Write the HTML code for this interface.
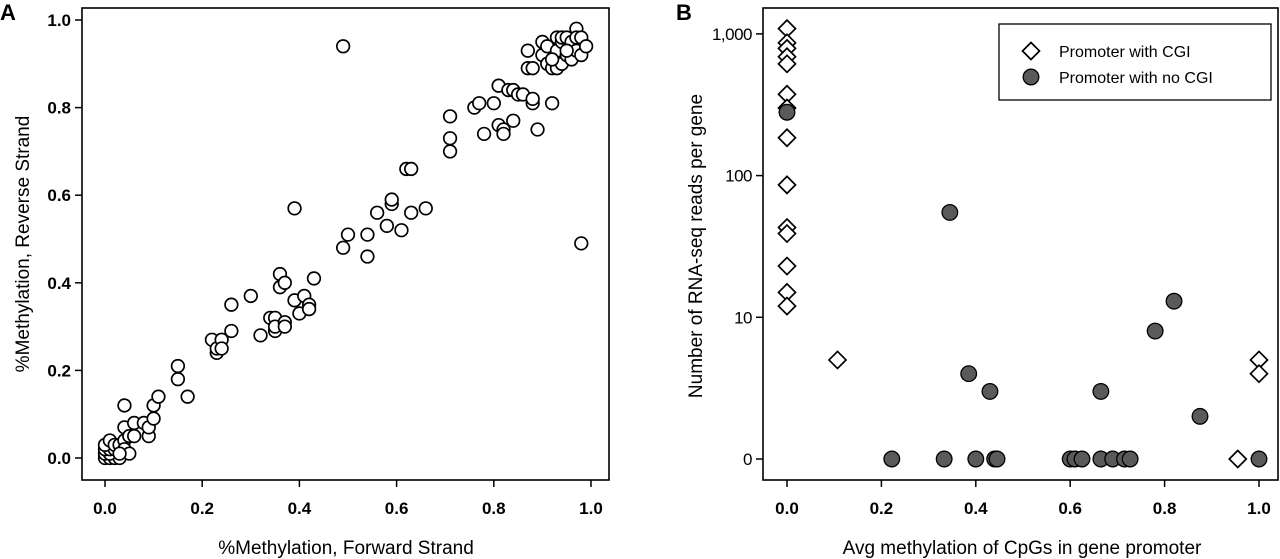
<!DOCTYPE html>
<html><head><meta charset="utf-8"><style>
html,body{margin:0;padding:0;background:#fff;}
svg{display:block;font-family:"Liberation Sans",Arial,sans-serif;}
</style></head><body>
<svg id="fig" width="1280" height="559" viewBox="0 0 1280 559">
<g id="pa"></g>
<g id="pb"></g>
</svg>
<script>
const aFwd=[0,0.01,0.02,0.03,0,0.01,0,0.01,0.02,0,0.01,0.02,0.03,0.04,0.04,0.05,0.03,0.04,0.04,0.05,0.06,0.06,0.08,0.09,0.09,0.1,0.1,0.11,0.15,0.15,0.17,0.22,0.23,0.23,0.24,0.24,0.26,0.26,0.3,0.32,0.34,0.35,0.35,0.35,0.36,0.36,0.37,0.37,0.37,0.39,0.39,0.4,0.41,0.42,0.42,0.43,0.49,0.49,0.5,0.54,0.54,0.56,0.58,0.59,0.59,0.61,0.62,0.63,0.63,0.66,0.71,0.71,0.71,0.76,0.77,0.78,0.8,0.81,0.81,0.82,0.82,0.83,0.84,0.84,0.85,0.86,0.87,0.87,0.88,0.88,0.88,0.89,0.9,0.9,0.91,0.91,0.92,0.92,0.93,0.93,0.93,0.94,0.94,0.94,0.95,0.95,0.96,0.96,0.97,0.97,0.97,0.98,0.98,0.98,0.99,0.92,0.95];
const aRev=[0,0,0,0,0.01,0.01,0.02,0.02,0.02,0.03,0.04,0.03,0.03,0.04,0.02,0.01,0.01,0.07,0.12,0.05,0.05,0.08,0.08,0.05,0.07,0.09,0.12,0.14,0.21,0.18,0.14,0.27,0.24,0.25,0.27,0.25,0.35,0.29,0.37,0.28,0.32,0.32,0.29,0.3,0.42,0.39,0.4,0.31,0.3,0.36,0.57,0.33,0.37,0.35,0.34,0.41,0.48,0.94,0.51,0.51,0.46,0.56,0.53,0.58,0.59,0.52,0.66,0.66,0.56,0.57,0.78,0.73,0.7,0.8,0.81,0.74,0.81,0.85,0.76,0.75,0.74,0.84,0.84,0.77,0.83,0.83,0.93,0.89,0.89,0.81,0.82,0.75,0.95,0.92,0.9,0.94,0.89,0.81,0.96,0.93,0.89,0.95,0.9,0.96,0.92,0.96,0.91,0.95,0.98,0.96,0.93,0.96,0.49,0.92,0.94,0.91,0.93];
const aTicks=[0,0.2,0.4,0.6,0.8,1.0];
const aTickLabels=["0.0","0.2","0.4","0.6","0.8","1.0"];
const cgiX=[0,0,0,0,0,0,0,0,0,0,0,0,0,0,0.107,1.0,1.0,0.955];
const cgiY=[1090,865,790,690,615,375,300,185,86,43,39,23,15,12,5,5,4,0];
const noX=[0,0.345,0.385,0.43,0.665,0.78,0.82,0.875,0.222,0.333,0.4,0.44,0.445,0.6,0.61,0.625,0.665,0.69,0.715,0.727,1.0];
const noY=[280,55,4,3,3,8,13,2,0,0,0,0,0,0,0,0,0,0,0,0,0];
const bTicksY=[1,10,100,1000];
const bTickLabelsY=["0","10","100","1,000"];
const bTicksX=[0,0.2,0.4,0.6,0.8,1.0];
const bTickLabelsX=["0.0","0.2","0.4","0.6","0.8","1.0"];

const NS="http://www.w3.org/2000/svg";
function mk(p,t,a){const e=document.createElementNS(NS,t);for(const k in a)e.setAttribute(k,a[k]);p.appendChild(e);return e;}

// Panel A
const pa=document.getElementById('pa');
const ax=v=>105+v*486, ay=v=>458-v*438;
let e=mk(pa,'rect',{x:82,y:8,width:527,height:472,fill:'none',stroke:'#000','stroke-width':1.6});

aTicks.forEach((t,i)=>{
  e=mk(pa,'line',{x1:ax(t),x2:ax(t),y1:480,y2:487,stroke:'#000','stroke-width':1.5});
  
  e=mk(pa,'text',{x:ax(t),y:514,'text-anchor':'middle','font-size':17,'font-weight':'bold'});e.textContent=aTickLabels[i];
  
  e=mk(pa,'line',{x1:75,x2:82,y1:ay(t),y2:ay(t),stroke:'#000','stroke-width':1.5});
  
  e=mk(pa,'text',{x:71,y:ay(t)+6,'text-anchor':'end','font-size':17,'font-weight':'bold'});e.textContent=aTickLabels[i];
  
});
aFwd.forEach((x,i)=>{
  e=mk(pa,'circle',{cx:ax(x),cy:ay(aRev[i]),r:6.3,fill:'#fff',stroke:'#000','stroke-width':1.7});
  
});
e=mk(pa,'text',{x:346,y:554,'text-anchor':'middle','font-size':19});e.textContent='%Methylation, Forward Strand';

e=mk(pa,'text',{x:0,y:0,'text-anchor':'middle','font-size':19,transform:'translate(29,244) rotate(-90)'});e.textContent='%Methylation, Reverse Strand';

e=mk(pa,'text',{x:0,y:20,'font-size':22,'font-weight':'bold'});e.textContent='A';


// Panel B
const pb=document.getElementById('pb');
const bx=v=>787+v*472, by=v=>459-Math.log10(Math.max(v,1))*141.7;
e=mk(pb,'rect',{x:763,y:8,width:515,height:472,fill:'none',stroke:'#000','stroke-width':1.6});

bTicksX.forEach((t,i)=>{
  e=mk(pb,'line',{x1:bx(t),x2:bx(t),y1:480,y2:487,stroke:'#000','stroke-width':1.5});
  
  e=mk(pb,'text',{x:bx(t),y:514,'text-anchor':'middle','font-size':17,'font-weight':'bold'});e.textContent=bTickLabelsX[i];
  
});
bTicksY.forEach((t,i)=>{
  e=mk(pb,'line',{x1:756,x2:763,y1:by(t),y2:by(t),stroke:'#000','stroke-width':1.5});
  
  e=mk(pb,'text',{x:752,y:by(t)+6,'text-anchor':'end','font-size':17,'letter-spacing':'-0.5'});e.textContent=bTickLabelsY[i];
  
});
function diamond(p,cx,cy){
  const s=8.5;
  return mk(p,'polygon',{points:`${cx},${cy-s} ${cx+s},${cy} ${cx},${cy+s} ${cx-s},${cy}`,fill:'#fff',stroke:'#000','stroke-width':1.7});
}
cgiX.forEach((x,i)=>{
  e=diamond(pb,bx(x),by(cgiY[i]));
  
});
noX.forEach((x,i)=>{
  e=mk(pb,'circle',{cx:bx(x),cy:by(noY[i]),r:7.8,fill:'#5a5a5a',stroke:'#000','stroke-width':1.3});
  
});
const lg=mk(pb,'g',{});

mk(lg,'rect',{x:999,y:24,width:272,height:76,fill:'#fff',stroke:'#000','stroke-width':1.3});
e=diamond(lg,1031,51);
e=mk(lg,'text',{x:1059,y:57,'font-size':16});e.textContent='Promoter with CGI';

e=mk(lg,'circle',{cx:1031,cy:77,r:7.8,fill:'#5a5a5a',stroke:'#000','stroke-width':1.3});

e=mk(lg,'text',{x:1059,y:83,'font-size':16});e.textContent='Promoter with no CGI';

e=mk(pb,'text',{x:1022,y:554,'text-anchor':'middle','font-size':19});e.textContent='Avg methylation of CpGs in gene promoter';

e=mk(pb,'text',{x:0,y:0,'text-anchor':'middle','font-size':19,transform:'translate(702,246) rotate(-90)'});e.textContent='Number of RNA-seq reads per gene';

e=mk(pb,'text',{x:676,y:20,'font-size':22,'font-weight':'bold'});e.textContent='B';

</script>
</body></html>
